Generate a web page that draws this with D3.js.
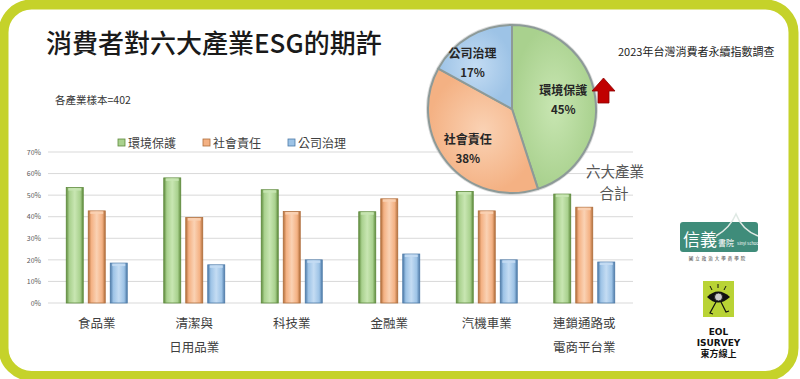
<!DOCTYPE html>
<html><head><meta charset="utf-8">
<script src="https://cdn.jsdelivr.net/npm/d3@7/dist/d3.min.js"></script>
<style>
html,body{margin:0;padding:0;background:#fff;}
svg{display:block;}
text{font-family:"Noto Sans CJK TC","Noto Sans",sans-serif;}
</style></head>
<body>
<svg id="c" width="800" height="379"></svg>
<script>
// ---- data ----
const categories = ["食品業", "清潔與\n日用品業", "科技業", "金融業", "汽機車業", "連鎖通路或\n電商平台業"];
const seriesNames = ["環境保護", "社會責任", "公司治理"];
const envValues = [53.5, 58.0, 52.5, 42.3, 51.7, 50.5];
const socValues = [42.7, 39.6, 42.4, 48.3, 42.7, 44.4];
const govValues = [18.5, 17.7, 20.0, 22.7, 20.0, 19.0];
const yTicks = [0, 10, 20, 30, 40, 50, 60, 70];
const pieNames = ["環境保護", "社會責任", "公司治理"];
const pieValues = [45, 38, 17];

// ---- styles ----
const fills = ["#a9d18e", "#f4b183", "#9dc3e6"];
const darks = ["#5e8a3c", "#b06e3c", "#4d7aa8"];
const lights = ["#c8e6b2", "#fad2b4", "#c4dcf3"];

const svg = d3.select("#c");
const defs = svg.append("defs");
fills.forEach((c, i) => {
  const g = defs.append("linearGradient").attr("id", "bar" + i).attr("x1", "0").attr("x2", "1").attr("y1", "0").attr("y2", "0");
  g.append("stop").attr("offset", "0").attr("stop-color", darks[i]);
  g.append("stop").attr("offset", "0.18").attr("stop-color", c);
  g.append("stop").attr("offset", "0.5").attr("stop-color", lights[i]);
  g.append("stop").attr("offset", "0.82").attr("stop-color", c);
  g.append("stop").attr("offset", "1").attr("stop-color", darks[i]);
  const r = defs.append("radialGradient").attr("id", "pie" + i).attr("cx", "0.5").attr("cy", "0.5").attr("r", "0.5")
    .attr("gradientUnits", "objectBoundingBox");
  r.append("stop").attr("offset", "0").attr("stop-color", lights[i]);
  r.append("stop").attr("offset", "1").attr("stop-color", c);
});

// frame
svg.append("rect").attr("x", 3.5).attr("y", 4.5).attr("width", 790).attr("height", 371.5)
  .attr("rx", 28).attr("fill", "#fff").attr("stroke", "#c5d22a").attr("stroke-width", 10);

// title
svg.append("text").attr("x", 46).attr("y", 53).attr("font-size", 26).attr("fill", "#1a1a1a")
  .attr("font-weight", 500).text("消費者對六大產業ESG的期許");
svg.append("text").attr("x", 55).attr("y", 104).attr("font-size", 10.5).attr("fill", "#333").text("各產業樣本=402");
svg.append("text").attr("x", 618).attr("y", 56).attr("font-size", 11).attr("fill", "#222").text("2023年台灣消費者永續指數調查");

// ---- bar chart ----
const x0 = d3.scaleBand().domain(categories).range([48, 633]).paddingInner(0);
const x1 = d3.scaleBand().domain([0, 1, 2]).range([-30.5, 30.5]).paddingInner(0.227);
const y = d3.scaleLinear().domain([0, 70]).range([303, 152]);

const grid = svg.append("g");
grid.selectAll("line").data(yTicks).join("line")
  .attr("x1", 48).attr("x2", 633)
  .attr("y1", d => y(d)).attr("y2", d => y(d))
  .attr("stroke", "#d9d9d9").attr("stroke-width", 1);

const yAxis = svg.append("g").attr("transform", "translate(48,0)")
  .call(d3.axisLeft(y).tickValues(yTicks).tickFormat(d => d + "%").tickSize(0).tickPadding(7));
yAxis.select(".domain").remove();
yAxis.selectAll("text").attr("font-size", 7).attr("fill", "#595959").attr("font-family", "Liberation Sans, Arial, sans-serif");

const seriesValues = [envValues, socValues, govValues];
categories.forEach((cat, ci) => {
  const cx = x0(cat) + x0.bandwidth() / 2;
  seriesValues.forEach((vals, si) => {
    const v = vals[ci];
    const bx = cx + x1(si);
    const bw = x1.bandwidth();
    svg.append("rect").attr("x", bx).attr("y", y(v)).attr("width", bw).attr("height", y(0) - y(v))
      .attr("fill", "url(#bar" + si + ")").attr("stroke", darks[si]).attr("stroke-width", 0.8);
    svg.append("rect").attr("x", bx + 2).attr("y", y(v) + 0.5).attr("width", bw - 4).attr("height", 2.5)
      .attr("fill", lights[si]).attr("opacity", 0.9);
  });
  const lines = cat.split("\n");
  const t = svg.append("text").attr("text-anchor", "middle").attr("font-size", 12.5).attr("fill", "#404040");
  lines.forEach((ln, li) => {
    t.append("tspan").attr("x", cx).attr("y", 328 + li * 24).text(ln);
  });
});

// legend
const legX = [118, 203, 288];
seriesNames.forEach((n, i) => {
  svg.append("rect").attr("x", legX[i]).attr("y", 139).attr("width", 7).attr("height", 7)
    .attr("fill", fills[i]).attr("stroke", darks[i]).attr("stroke-width", 0.8);
  svg.append("text").attr("x", legX[i] + 10).attr("y", 147.5).attr("font-size", 12).attr("fill", "#404040").text(n);
});

// ---- pie ----
const pcx = 512, pcy = 109, pr = 84;
const pie = d3.pie().sort(null)(pieValues);
const arc = d3.arc().innerRadius(0).outerRadius(pr);
const labelArc = d3.arc().innerRadius(56).outerRadius(56);
const pg = svg.append("g").attr("transform", `translate(${pcx},${pcy})`);
pg.append("circle").attr("r", pr + 2).attr("fill", "#b8b8b8").attr("opacity", 0.5);
pg.selectAll("path").data(pie).join("path").attr("d", arc)
  .attr("fill", (d, i) => "url(#pie" + i + ")")
  .attr("stroke", "#8d9a98").attr("stroke-width", 2).attr("stroke-linejoin", "round");
const labelNudge = [[-4, -5], [-1, -1], [-11, -3]];
pie.forEach((d, i) => {
  const [lx, ly] = labelArc.centroid(d);
  const tx = lx + labelNudge[i][0], ty = ly + labelNudge[i][1];
  pg.append("text").attr("x", tx).attr("y", ty).attr("text-anchor", "middle")
    .attr("font-size", 12).attr("font-weight", 700).attr("fill", "#262626").text(pieNames[i]);
  pg.append("text").attr("x", tx).attr("y", ty + 19).attr("text-anchor", "middle")
    .attr("font-size", 11.5).attr("font-weight", 700).attr("fill", "#262626").text(d.data + "%");
});

// red arrow
svg.append("path").attr("d", "M603.5,78 L615,91 L609,91 L609,103 L598,103 L598,91 L592,91 Z")
  .attr("fill", "#c00000").attr("stroke", "#8a0000").attr("stroke-width", 0.8);

const tot = svg.append("text").attr("text-anchor", "middle").attr("font-size", 14.5).attr("fill", "#555");
tot.append("tspan").attr("x", 615).attr("y", 177).text("六大產業");
tot.append("tspan").attr("x", 614).attr("y", 198.5).text("合計");

// ---- logos ----
const lg = svg.append("g");
lg.append("rect").attr("x", 680).attr("y", 222).attr("width", 78).attr("height", 30).attr("rx", 3).attr("fill", "#3f8c7a");
lg.append("path").attr("d", "M716,236 Q730,228 736,214 Q742,230 758,236").attr("fill", "none").attr("stroke", "#dfe9e4").attr("stroke-width", 1.5);
lg.append("text").attr("x", 683).attr("y", 246).attr("font-size", 17).attr("fill", "#fff").text("信義");
lg.append("text").attr("x", 718).attr("y", 246).attr("font-size", 8).attr("fill", "#fff").text("書院");
lg.append("text").attr("x", 737).attr("y", 245).attr("font-size", 4).attr("fill", "#fff").attr("font-family", "Liberation Sans").text("Sinyi School");
lg.append("text").attr("x", 718).attr("y", 260).attr("text-anchor", "middle").attr("font-size", 4.5).attr("fill", "#333").attr("letter-spacing", 2).text("國立政治大學商學院");

lg.append("rect").attr("x", 703).attr("y", 281).attr("width", 31).attr("height", 36).attr("fill", "#b9d335");
lg.append("path").attr("d", "M707,297 Q718,286 730,297 Q718,308 707,297 Z").attr("fill", "#111");
lg.append("circle").attr("cx", 718.5).attr("cy", 297).attr("r", 4).attr("fill", "#ccc").attr("stroke", "#111").attr("stroke-width", 0.8);
lg.append("path").attr("d", "M716,302 L710,313 L713,314 M721,302 L726,312 L729,311").attr("fill", "none").attr("stroke", "#111").attr("stroke-width", 1.2);
lg.append("path").attr("d", "M712,290 L710,286 M718,288 L718,284 M724,290 L726,286").attr("stroke", "#111").attr("stroke-width", 1);
const eol = lg.append("text").attr("text-anchor", "middle").attr("font-size", 9).attr("font-weight", 700).attr("fill", "#111");
eol.append("tspan").attr("x", 718.5).attr("y", 335).attr("font-family", "DejaVu Sans").text("EOL");
eol.append("tspan").attr("x", 718.5).attr("y", 346).attr("font-family", "DejaVu Sans").text("ISURVEY");
eol.append("tspan").attr("x", 718.5).attr("y", 357).text("東方線上");
</script>
</body></html>
